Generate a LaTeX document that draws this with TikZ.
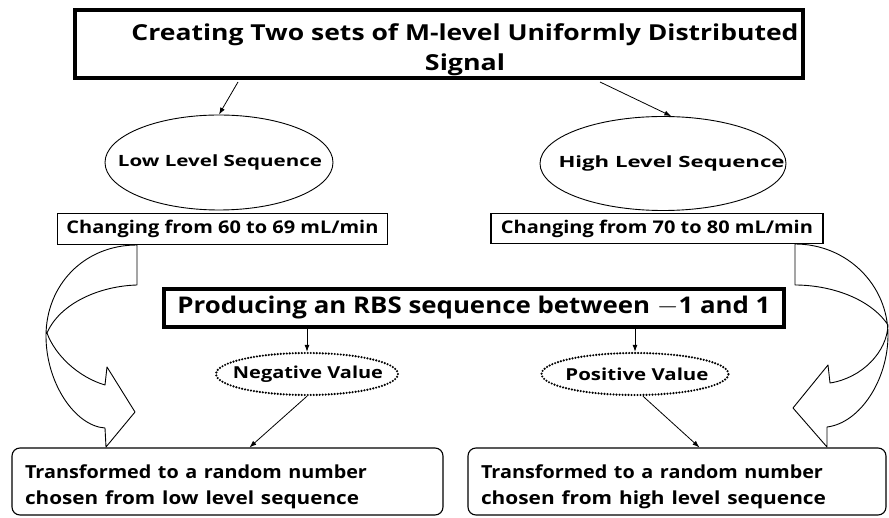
\documentclass[tikz,border=0pt]{standalone}
\usepackage{fontspec}
\setmainfont{Open Sans}
\usetikzlibrary{arrows.meta,shapes.geometric}
\newcommand{\fitw}[2]{\resizebox{#1}{\height}{#2}}
\tikzset{
  thickbox/.style={draw, rectangle, line width=4pt, inner sep=0pt},
  thinbox/.style={draw, rectangle, line width=1.2pt, inner sep=0pt},
  roundbox/.style={draw, rectangle, rounded corners=8pt, line width=1.1pt, inner xsep=13pt, inner ysep=0pt, align=left},
  solidell/.style={draw, ellipse, line width=0.9pt, inner sep=0pt},
  dotell/.style={draw, ellipse, line width=2.4pt, dash pattern=on 0pt off 3pt, line cap=round, inner sep=0pt},
  arr/.style={line width=0.8pt, -{Latex[length=7pt,width=5pt]}},
  bigarrow/.style={line width=0.9pt, line join=round}
}
\begin{document}
\begin{tikzpicture}[x=1pt,y=-1pt,font=\bfseries]
\useasboundingbox (0,0) rectangle (889,518);
\fill[white] (0,0) rectangle (889,518);

% title
\node[thickbox, minimum width=728pt, minimum height=68pt] (titlebox) at (439,44) {};
\node[align=center, font=\bfseries\fontsize{22}{30}\selectfont] (titletext) at (465,50)
  {\fitw{667pt}{Creating Two sets of M-level Uniformly Distributed}\\\fitw{80pt}{Signal}};

% ellipses
\node[solidell, minimum width=228pt, minimum height=95pt] (low) at (219,162.5)
  {\fontsize{15.5}{18}\selectfont\raisebox{-6pt}{\makebox[0pt]{\hspace*{2pt}\fitw{204pt}{Low Level Sequence}}}};
\node[solidell, minimum width=246pt, minimum height=94pt] (high) at (663,163.5)
  {\fontsize{15.5}{18}\selectfont\raisebox{-6pt}{\makebox[0pt]{\hspace*{17pt}\fitw{226pt}{High Level Sequence}}}};

% changing boxes
\node[thinbox, minimum width=330pt, minimum height=31pt, font=\bfseries\fontsize{17.5}{22}\selectfont] (lchg) at (222.5,229)
  {\fitw{312pt}{Changing from 60 to 69 mL/min}};
\node[thinbox, minimum width=332pt, minimum height=30pt, font=\bfseries\fontsize{17.5}{22}\selectfont] (hchg) at (657,228.5)
  {\fitw{312pt}{Changing from 70 to 80 mL/min}};

% RBS box
\node[thickbox, minimum width=620pt, minimum height=38pt, font=\bfseries\fontsize{23}{28}\selectfont] (rbs) at (474,308)
  {\fitw{593pt}{Producing an RBS sequence between $-$1 and 1}};

% dotted ellipses
\node[dotell, minimum width=182pt, minimum height=42pt] (neg) at (307,374)
  {\fontsize{16.5}{20}\selectfont\makebox[0pt]{\hspace*{2pt}\fitw{150pt}{Negative Value}}};
\node[dotell, minimum width=187pt, minimum height=42pt] (pos) at (635,374)
  {\fontsize{16.5}{20}\selectfont\makebox[0pt]{\hspace*{4pt}\fitw{143pt}{Positive Value}}};

% bottom boxes
\node[roundbox, minimum width=431pt, minimum height=67pt, text width=405pt, font=\bfseries\fontsize{18}{26}\selectfont] (lbot) at (227.5,481.5)
  {\rule{0pt}{25pt}\fitw{342pt}{Transformed to a random number}\\ \fitw{334pt}{chosen from low level sequence}};
\node[roundbox, minimum width=418pt, minimum height=67pt, text width=392pt, font=\bfseries\fontsize{18}{26}\selectfont] (hbot) at (677,481.5)
  {\rule{0pt}{25pt}\fitw{342pt}{Transformed to a random number}\\ \fitw{345pt}{chosen from high level sequence}};

% connectors
\coordinate (tl) at (238,82);
\coordinate (tr) at (600,82);
\draw[arr] (tl) -- (low.north);
\draw[arr] (tr) -- (high.80);
\draw[arr] (rbs.south -| neg.north) -- (neg.north);
\draw[arr] (rbs.south -| pos.north) -- (pos.north);
\draw[arr] (neg.south) -- ([xshift=238pt]lbot.north west);
\draw[arr] ([xshift=8pt]pos.south) -- ([xshift=232pt]hbot.north west);

% left curved block arrow
\draw[bigarrow] (137,245) -- (137,285)
  .. controls (100,286) and (60,303) .. (47,333)
  .. controls (55,355) and (78,377) .. (105,385)
  -- (107,367) -- (135,412) -- (106,447) -- (105,428)
  .. controls (75,426) and (46,383) .. (46,336)
  .. controls (46,285) and (84,245) .. (137,245);
% right curved block arrow
\draw[bigarrow] (795,244) -- (795,285)
  .. controls (830,285) and (870,298) .. (888,325)
  .. controls (887,352) and (862,378) .. (830,383)
  -- (828,365) -- (793,408) -- (827,447) -- (827,427)
  .. controls (860,423) and (888,380) .. (888,335)
  .. controls (888,285) and (847,244) .. (795,244);
\end{tikzpicture}
\end{document}
